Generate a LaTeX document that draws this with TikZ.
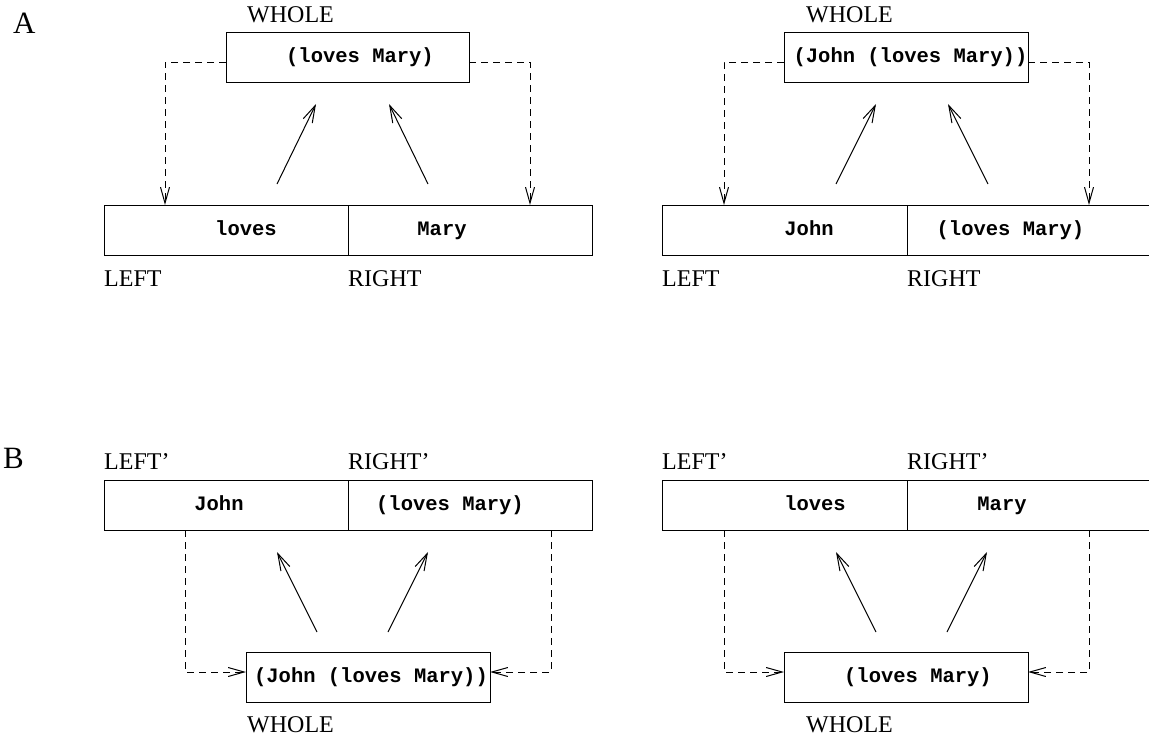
\documentclass[tikz,border=0pt]{standalone}
\usepackage{fontspec}
\setmainfont{Liberation Serif}
\setmonofont{Liberation Mono}
\usetikzlibrary{arrows.meta}
\begin{document}
\begin{tikzpicture}[x=1pt,y=-1pt,
  wbox/.style={draw,line width=1pt,minimum width=#1,minimum height=50pt,inner sep=0pt,outer sep=0pt,anchor=north west},
  mono/.style={font=\fontsize{20.5}{24}\selectfont\ttfamily\bfseries,anchor=base,inner sep=0pt},
  lab/.style={font=\fontsize{24}{28}\selectfont,anchor=base west,inner sep=0pt},
  panel/.style={font=\fontsize{31}{36}\selectfont,anchor=base west,inner sep=0pt},
  dsh/.style={line width=1pt,dash pattern=on 7pt off 5pt,-{Straight Barb[length=16pt,width=9pt]}},
  sol/.style={line width=1pt,-{Straight Barb[length=17pt,width=10pt]}}
]
\useasboundingbox (0,0) rectangle (1149,742);

% panel letters
\node[panel] (pA) at (13,33) {A};
\node[panel] (pB) at (3,468) {B};

% ===== A left =====
\node[lab] (whA1) at (247,22) {WHOLE};
\node[wbox=243pt] (wA1) at (226,32) {};
\node[mono] (twA1) at (360,62) {(loves Mary)};
\node[wbox=244pt] (lA1) at (104,205) {};
\node[wbox=244pt] (rA1) at (348,205) {};
\node[mono] (tlA1) at (246,235) {loves};
\node[mono] (trA1) at (442,235) {Mary};
\node[lab] (leA1) at (104,286) {LEFT};
\node[lab] (riA1) at (348,286) {RIGHT};
\coordinate (cA1l) at (165,205);
\coordinate (cA1r) at (530,205);
\draw[dsh] ([yshift=-5pt]wA1.west) -| (cA1l);
\draw[dsh] ([yshift=-5pt]wA1.east) -| (cA1r);
\coordinate (sA1a) at (277,184); \coordinate (eA1a) at (316,104);
\coordinate (sA1b) at (428,184); \coordinate (eA1b) at (389,104);
\draw[sol] (sA1a) -- (eA1a);
\draw[sol] (sA1b) -- (eA1b);

% ===== A right =====
\node[lab] (whA2) at (806,22) {WHOLE};
\node[wbox=244pt] (wA2) at (784,32) {};
\node[mono] (twA2) at (910.5,62) {(John (loves Mary))};
\node[wbox=245pt] (lA2) at (662,205) {};
\node[wbox=244pt] (rA2) at (907,205) {};
\node[mono] (tlA2) at (809,235) {John};
\node[mono] (trA2) at (1010.5,235) {(loves Mary)};
\node[lab] (leA2) at (662,286) {LEFT};
\node[lab] (riA2) at (907,286) {RIGHT};
\coordinate (cA2l) at (724,205);
\coordinate (cA2r) at (1089,205);
\draw[dsh] ([yshift=-5pt]wA2.west) -| (cA2l);
\draw[dsh] ([yshift=-5pt]wA2.east) -| (cA2r);
\coordinate (sA2a) at (836,184); \coordinate (eA2a) at (876,104);
\coordinate (sA2b) at (988,184); \coordinate (eA2b) at (948,104);
\draw[sol] (sA2a) -- (eA2a);
\draw[sol] (sA2b) -- (eA2b);

% ===== B left =====
\node[lab] (leB1) at (104,469) {LEFT'};
\node[lab] (riB1) at (348,469) {RIGHT'};
\node[wbox=244pt] (lB1) at (104,480) {};
\node[wbox=244pt] (rB1) at (348,480) {};
\node[mono] (tlB1) at (219,510) {John};
\node[mono] (trB1) at (450,510) {(loves Mary)};
\node[wbox=244pt] (wB1) at (246,652) {};
\node[mono] (twB1) at (371,682) {(John (loves Mary))};
\node[lab] (whB1) at (247,732) {WHOLE};
\draw[dsh] ([xshift=81pt]lB1.south west) |- ([yshift=5pt]wB1.west);
\draw[dsh] ([xshift=-41pt]rB1.south east) |- ([yshift=5pt]wB1.east);
\coordinate (sB1a) at (317,632); \coordinate (eB1a) at (277,552);
\coordinate (sB1b) at (388,632); \coordinate (eB1b) at (428,552);
\draw[sol] (sB1a) -- (eB1a);
\draw[sol] (sB1b) -- (eB1b);

% ===== B right =====
\node[lab] (leB2) at (662,469) {LEFT'};
\node[lab] (riB2) at (907,469) {RIGHT'};
\node[wbox=245pt] (lB2) at (662,480) {};
\node[wbox=244pt] (rB2) at (907,480) {};
\node[mono] (tlB2) at (815,510) {loves};
\node[mono] (trB2) at (1002,510) {Mary};
\node[wbox=244pt] (wB2) at (784,652) {};
\node[mono] (twB2) at (918,682) {(loves Mary)};
\node[lab] (whB2) at (806,732) {WHOLE};
\draw[dsh] ([xshift=62pt]lB2.south west) |- ([yshift=5pt]wB2.west);
\draw[dsh] ([xshift=-62pt]rB2.south east) |- ([yshift=5pt]wB2.east);
\coordinate (sB2a) at (876,632); \coordinate (eB2a) at (836,552);
\coordinate (sB2b) at (947,632); \coordinate (eB2b) at (987,552);
\draw[sol] (sB2a) -- (eB2a);
\draw[sol] (sB2b) -- (eB2b);
\end{tikzpicture}
\end{document}
